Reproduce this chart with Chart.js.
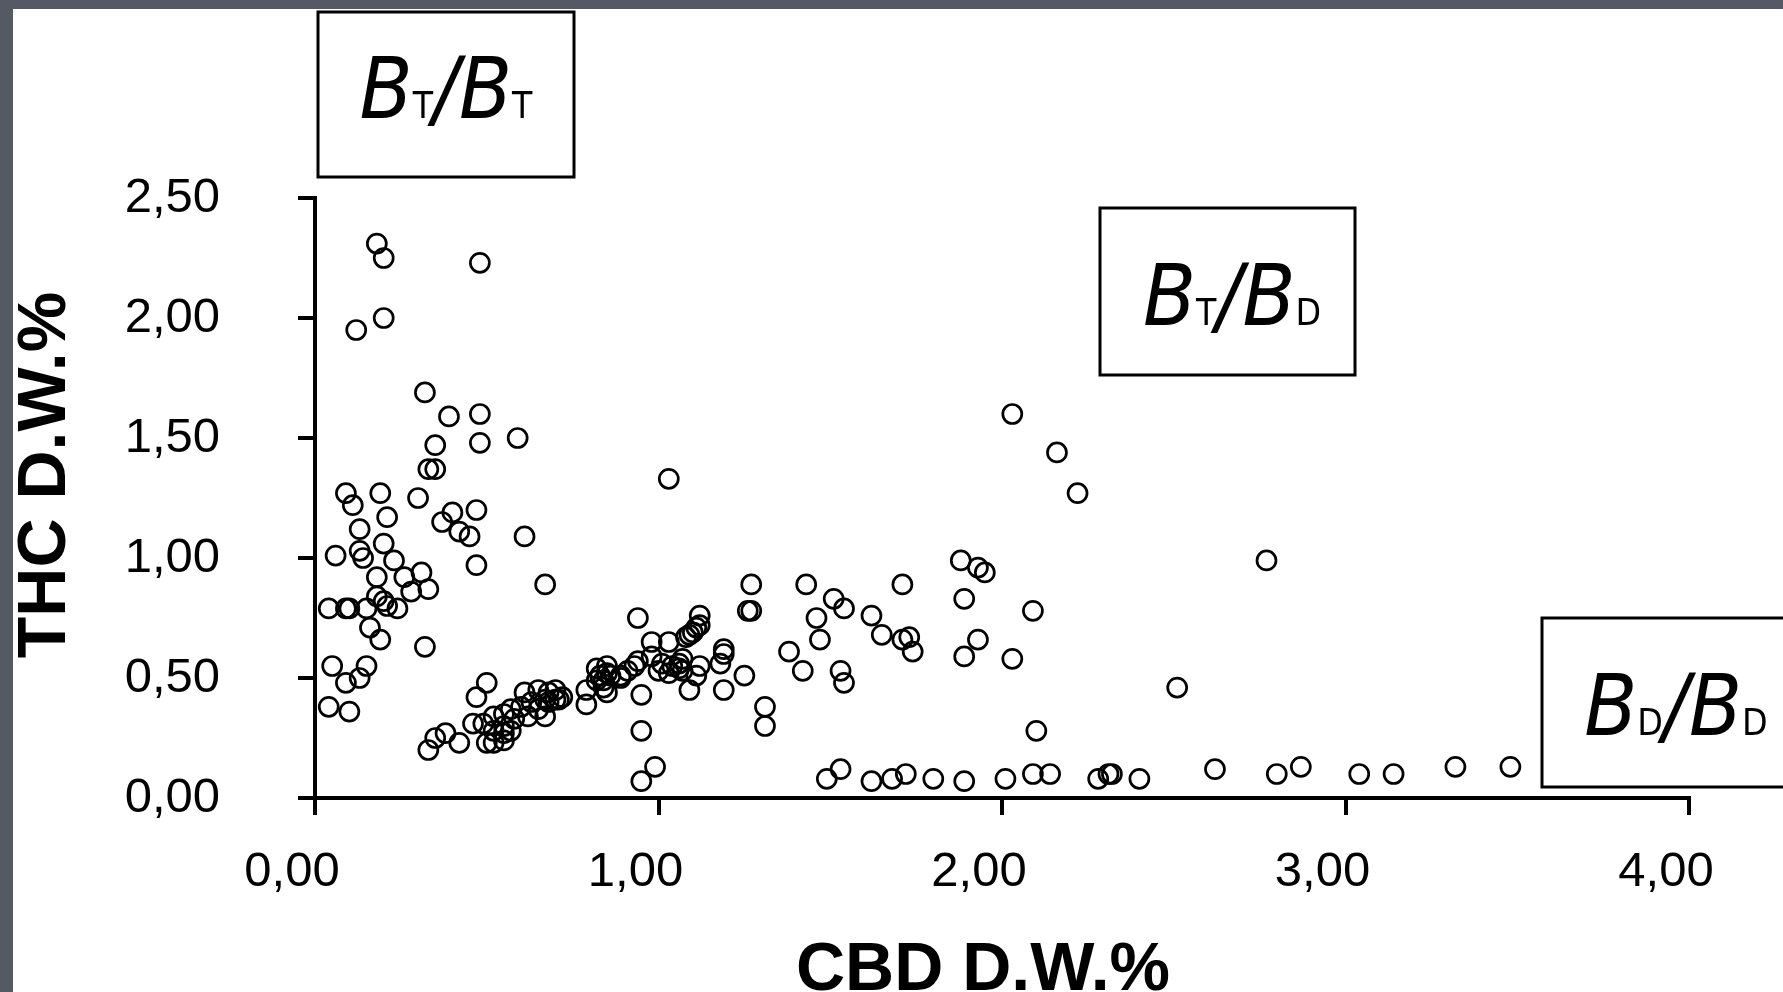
<!DOCTYPE html>
<html>
<head>
<meta charset="utf-8">
<script src="https://cdn.jsdelivr.net/npm/chart.js@4/dist/chart.umd.min.js"></script>
<style>
  html, body { margin: 0; padding: 0; }
  body { width: 1783px; height: 992px; background: #555963; overflow: hidden; position: relative; }
  #frame { position: absolute; left: 13px; top: 9px; width: 1770px; height: 983px; background: #fff; }
</style>
</head>
<body>
<div id="frame"><canvas id="scatter" width="1770" height="983"></canvas></div>
<script>
// [CBD, THC] in D.W.%
var lowCbd = [
  [0.18,2.31],[0.20,2.25],[0.48,2.23],[0.12,1.95],[0.20,2.00],
  [0.32,1.69],[0.39,1.59],[0.48,1.60],[0.59,1.50],[0.48,1.48],[0.35,1.47],[0.33,1.37],[0.35,1.37],
  [0.09,1.27],[0.19,1.27],[0.11,1.22],[0.30,1.25],[0.21,1.17],[0.40,1.19],[0.37,1.15],[0.47,1.20],
  [0.13,1.12],[0.42,1.11],[0.45,1.09],[0.61,1.09],[0.20,1.06],[0.06,1.01],[0.13,1.03],[0.14,1.00],[0.23,0.99],[0.47,0.97],
  [0.67,0.89],[0.18,0.92],[0.26,0.92],[0.31,0.94],[0.28,0.86],[0.33,0.87],[0.18,0.84],[0.20,0.82],[0.21,0.80],[0.24,0.79],
  [0.04,0.79],[0.09,0.79],[0.10,0.79],[0.15,0.79],
  [0.16,0.71],[0.19,0.66],[0.32,0.63],
  [0.05,0.55],[0.15,0.55],[0.09,0.48],[0.13,0.50],[0.04,0.38],[0.10,0.36],
  [0.50,0.48],[0.47,0.42],[0.46,0.31],[0.49,0.31],[0.38,0.27],[0.35,0.25],[0.33,0.20],[0.42,0.23]
];

var midCbd = [
  [0.50,0.23],[0.52,0.23],[0.55,0.24],[0.52,0.28],[0.55,0.27],[0.57,0.28],[0.55,0.30],[0.52,0.34],[0.58,0.33],
  [0.62,0.34],[0.67,0.34],[0.57,0.37],[0.55,0.35],[0.60,0.38],[0.65,0.37],[0.63,0.40],[0.61,0.44],[0.65,0.45],
  [0.68,0.44],[0.72,0.42],[0.70,0.41],[0.67,0.41],[0.68,0.40],[0.70,0.45],[0.71,0.41],
  [0.79,0.45],[0.79,0.39],
  [0.82,0.54],[0.83,0.51],[0.84,0.49],[0.85,0.55],[0.85,0.44],[0.86,0.51],[0.89,0.51],[0.91,0.53],[0.93,0.55],
  [0.94,0.57],[0.82,0.49],[0.84,0.46],[0.85,0.52],[0.89,0.50],
  [0.94,0.75],[0.98,0.59],[0.98,0.65],[0.95,0.43],[0.95,0.28],[0.99,0.13],[0.95,0.07],
  [1.03,0.65],[1.00,0.53],[1.03,0.52],[1.04,0.55],[1.01,0.56],[1.06,0.56],[1.07,0.53],[1.07,0.58],[1.11,0.51],
  [1.12,0.55],[1.09,0.45],[1.06,0.54],
  [1.08,0.67],[1.09,0.68],[1.10,0.69],[1.11,0.71],[1.12,0.72],[1.12,0.76],
  [1.19,0.62],[1.19,0.60],[1.18,0.56],[1.19,0.45],[1.25,0.51],[1.27,0.78],[1.26,0.78],[1.27,0.89],[1.03,1.33],
  [1.31,0.38],[1.31,0.30]
];

var highCbd = [
  [1.38,0.61],[1.42,0.53],[1.43,0.89],[1.46,0.75],[1.47,0.66],[1.51,0.83],[1.54,0.79],[1.53,0.53],[1.54,0.48],
  [1.62,0.76],[1.65,0.68],[1.71,0.89],[1.71,0.66],[1.73,0.67],[1.74,0.61],
  [1.88,0.99],[1.93,0.96],[1.95,0.94],[1.89,0.83],[1.89,0.59],[1.93,0.66],[2.03,0.58],[2.09,0.78],[2.10,0.28],
  [2.03,1.60],[2.16,1.44],[2.22,1.27],[2.51,0.46],[2.77,0.99],
  [1.49,0.08],[1.53,0.12],[1.62,0.07],[1.68,0.08],[1.72,0.10],[1.80,0.08],[1.89,0.07],[2.01,0.08],[2.09,0.10],
  [2.14,0.10],[2.28,0.08],[2.31,0.10],[2.32,0.10],[2.40,0.08],[2.62,0.12],[2.80,0.10],[2.87,0.13],[3.04,0.10],
  [3.14,0.10],[3.32,0.13],[3.48,0.13]
];

var xTickLabels = ['0,00', '1,00', '2,00', '3,00', '4,00'];
var yTickLabels = ['0,00', '0,50', '1,00', '1,50', '2,00', '2,50'];
var xTitle = 'CBD D.W.%';
var yTitle = 'THC D.W.%';

// chemotype boxes : [main, sub, main, sub]
var chemotypes = [
  { parts: ['B', 'T', 'B', 'T'], box: [305, 3, 256, 165], cx: 433, base: 109 },
  { parts: ['B', 'T', 'B', 'D'], box: [1087, 199, 255, 167], cx: 1219, base: 316 },
  { parts: ['B', 'D', 'B', 'D'], box: [1529, 609, 290, 169], cx: 1663, base: 726 }
];

var bigFont = 'italic 86px "DejaVu Sans Condensed", "DejaVu Sans"';
var subFont = '37px "DejaVu Sans Condensed", "DejaVu Sans"';
var tickFont = { family: '"Liberation Sans", Arial, sans-serif', size: 49 };

var labelsPlugin = {
  id: 'labels',
  afterDraw: function (chart) {
    var ctx = chart.ctx;
    ctx.save();
    ctx.fillStyle = '#000';
    ctx.strokeStyle = '#000';

    // titres des axes
    ctx.font = 'bold 68px "Liberation Sans", Arial, sans-serif';
    ctx.textAlign = 'center';
    ctx.textBaseline = 'alphabetic';
    ctx.fillText(xTitle, 970, 981);
    ctx.save();
    ctx.translate(52, 466);
    ctx.rotate(-Math.PI / 2);
    ctx.fillText(yTitle, 0, 0);
    ctx.restore();

    // boites BT/BD
    ctx.textAlign = 'left';
    chemotypes.forEach(function (c) {
      ctx.lineWidth = 3;
      ctx.strokeRect(c.box[0], c.box[1], c.box[2], c.box[3]);
      var pieces = [
        { t: c.parts[0], f: bigFont },
        { t: c.parts[1], f: subFont },
        { t: '/', f: bigFont },
        { t: c.parts[2], f: bigFont },
        { t: c.parts[3], f: subFont }
      ];
      var total = 0;
      pieces.forEach(function (p) {
        ctx.font = p.f;
        p.w = ctx.measureText(p.t).width;
        total += p.w;
      });
      var x = c.cx - total / 2;
      pieces.forEach(function (p) {
        ctx.font = p.f;
        ctx.fillText(p.t, x, c.base);
        x += p.w;
      });
    });
    ctx.restore();
  }
};

var points = [].concat(lowCbd, midCbd, highCbd).map(function (p) {
  return { x: p[0], y: p[1] };
});

new Chart(document.getElementById('scatter'), {
  type: 'scatter',
  data: {
    datasets: [{
      data: points,
      borderColor: '#000',
      backgroundColor: 'rgba(0,0,0,0)',
      borderWidth: 2.7,
      pointRadius: 9.5,
      pointHoverRadius: 9.5,
      clip: false
    }]
  },
  options: {
    responsive: false,
    devicePixelRatio: 1,
    animation: false,
    layout: { padding: { top: 189, right: 94, left: 0, bottom: 0 } },
    plugins: {
      legend: { display: false },
      tooltip: { enabled: false }
    },
    scales: {
      x: {
        type: 'linear',
        min: 0,
        max: 4,
        afterFit: function (scale) { scale.height = 194; },
        border: { display: true, color: '#000', width: 4 },
        grid: { drawOnChartArea: false, color: '#000', lineWidth: 4, tickLength: 17 },
        ticks: {
          stepSize: 1,
          padding: 28,
          labelOffset: -23,
          maxRotation: 0,
          color: '#000',
          font: tickFont,
          callback: function (v, i) { return xTickLabels[i]; }
        }
      },
      y: {
        type: 'linear',
        min: 0,
        max: 2.5,
        afterFit: function (scale) { scale.width = 302; },
        border: { display: true, color: '#000', width: 4 },
        grid: { drawOnChartArea: false, color: '#000', lineWidth: 4, tickLength: 17 },
        ticks: {
          stepSize: 0.5,
          padding: 78,
          color: '#000',
          font: tickFont,
          callback: function (v, i) { return yTickLabels[i]; }
        }
      }
    }
  },
  plugins: [labelsPlugin]
});
</script>
</body>
</html>
